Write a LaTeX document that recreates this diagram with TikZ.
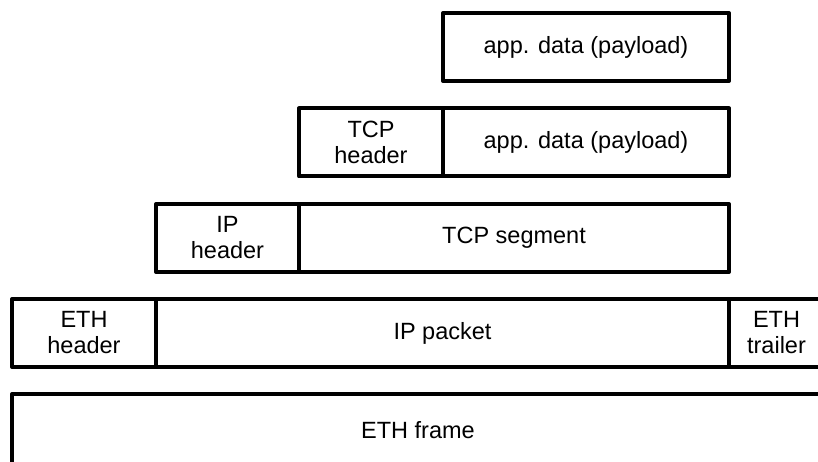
\documentclass[tikz,border=0pt]{standalone}
\usepackage{fontspec}
\setmainfont{Liberation Sans}
\usetikzlibrary{positioning}

\begin{document}
\begin{tikzpicture}[x=1pt,y=-1pt]
\tikzstyle{field}=[draw=black,line width=4pt,line join=round,outer sep=0pt,inner sep=2pt,
  minimum height=68pt,align=center,font=\fontsize{23.5}{26}\selectfont]
\useasboundingbox (0,0) rectangle (818,462);
\clip (0,0) rectangle (818,462);
% application layer
\node[field,minimum width=286pt] (app) at (586,47) {app. data (payload)};
% transport layer
\node[field,minimum width=144pt,anchor=west] (tcph) at (299,142.5) {TCP\\header};
\node[field,minimum width=286pt,right=0pt of tcph] (tcpdata) {app. data (payload)};
% network layer
\node[field,minimum width=143pt,anchor=west] (iph) at (156,238) {IP\\header};
\node[field,minimum width=430pt,right=0pt of iph] (segment) {TCP segment};
% link layer
\node[field,minimum width=144pt,anchor=west] (ethh) at (12,333) {ETH\\header};
\node[field,minimum width=573pt,right=0pt of ethh] (packet) {IP packet};
\node[field,minimum width=95pt,right=0pt of packet] (etht) {ETH\\trailer};
% whole frame
\node[field,minimum width=812pt,minimum height=72pt,anchor=west] (frame) at (12,430) {ETH frame};
\end{tikzpicture}
\end{document}
